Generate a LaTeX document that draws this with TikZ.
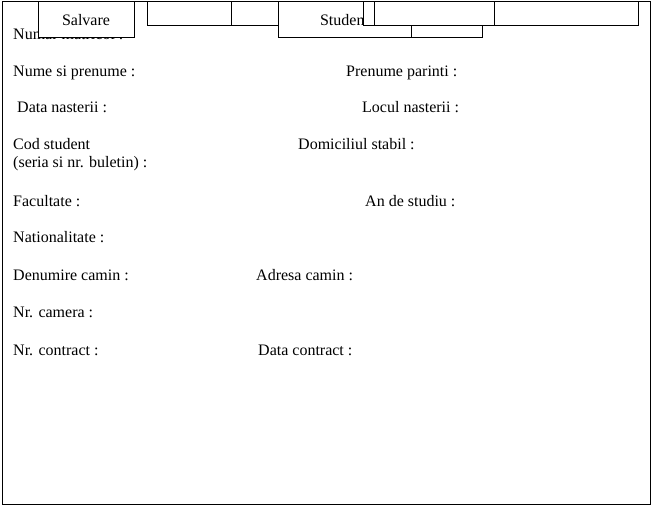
\documentclass[tikz,border=0pt]{standalone}
\usepackage{fontspec}
\setmainfont{Liberation Serif}

\tikzset{
  field/.style={anchor=base west, inner sep=0pt, font=\fontsize{16}{19}\selectfont},
  tab/.style={draw, fill=white, line width=1pt, inner sep=0pt, outer sep=0pt, font=\fontsize{16}{19}\selectfont},
}

\begin{document}
\begin{tikzpicture}[x=1pt, y=-1pt]
            \useasboundingbox (0, 0) rectangle (654, 508);
            \draw[line width=1pt] (2, 2) rectangle (650, 504);
            % fields of the form
            \node[field] (matricol) at (13, 40) {Numar matricol :};
            \node[field] (nume) at (13, 77) {Nume si prenume :};
            \node[field] (parinti) at (346, 77) {Prenume parinti :};
            \node[field] (data) at (13, 113) {\ Data nasterii :};
            \node[field] (locul) at (362, 113) {Locul nasterii :};
            \node[field] (cod) at (13, 150) {Cod student};
            \node[field] (seria) at (13, 168) {(seria si nr. buletin) :};
            \node[field] (domiciliu) at (298, 150) {Domiciliul stabil :};
            \node[field] (facultate) at (13, 207) {Facultate :};
            \node[field] (an) at (365, 207) {An de studiu :};
            \node[field] (nationalitate) at (13, 243) {Nationalitate :};
            \node[field] (camin) at (13, 280) {Denumire camin :};
            \node[field] (adresa) at (256, 280) {Adresa camin :};
            \node[field] (camera) at (13, 317) {Nr. camera :};
            \node[field] (contract) at (13, 355) {Nr. contract :};
            \node[field] (datacontract) at (258, 355) {Data contract :};
            % tabs on top
            \node[tab, minimum width=96pt, minimum height=36pt] (salvare) at (86, 20) {Salvare};
            \node[tab, minimum width=84pt, minimum height=24pt] (tabA) at (189, 14) {};
            \node[tab, minimum width=47pt, minimum height=24pt] (tabB) at (254.5, 14) {};
            \node[tab, minimum width=133pt, minimum height=36pt] (student) at (344.5, 20) {Student};
            \node[tab, minimum width=71pt, minimum height=36pt] (tabC) at (446.5, 20) {};
            \node[tab, minimum width=11pt, minimum height=24pt] (tabD) at (368.5, 14) {};
            \node[tab, minimum width=120pt, minimum height=24pt] (tabE) at (434, 14) {};
            \node[tab, minimum width=144pt, minimum height=24pt] (tabF) at (566, 14) {};
         \end{tikzpicture}
\end{document}
